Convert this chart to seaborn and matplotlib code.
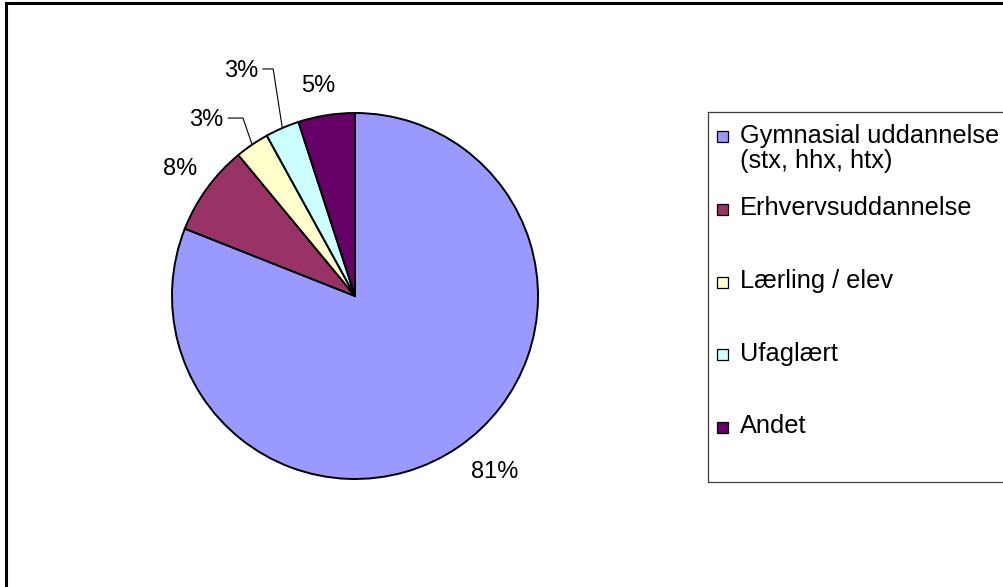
import numpy as np
import matplotlib
matplotlib.use("Agg")
import matplotlib.pyplot as plt
from matplotlib.patches import Rectangle
import seaborn as sns

# data
categories = ["Gymnasial uddannelse\n(stx, hhx, htx)", "Erhvervsuddannelse",
              "Lærling / elev", "Ufaglært", "Andet"]
shares = [81, 8, 3, 3, 5]
colors = ["#9999FF", "#993366", "#FFFFCC", "#CCFFFF", "#660066"]

# label layout (distance in radii, angle shift in degrees, leader line?)
lab_dist = [1.23, 1.18, 1.26, 1.38, 1.165]
lab_shift = [4.2, 0.0, 6.0, 3.5, 0.9]
lab_leader = [False, False, True, True, False]

sns.set_style("white")
plt.rcParams['font.family'] = ['Liberation Sans', 'DejaVu Sans']
plt.rcParams['text.color'] = 'black'

W, H = 1004, 587
fig = plt.figure(figsize=(W / 100, H / 100), dpi=100)

# outer frame (cut by the image edge on right/bottom)
fig.patches.append(Rectangle((6 / W, -0.05), 1.1, 1 - 3 / H + 0.05, transform=fig.transFigure,
                             fill=False, edgecolor="black", linewidth=2.2))

# pie axes: centre at (355, 296) px, radius 183 px
R = 183
cx, cy = 355, 296
half = 250
ax = fig.add_axes([(cx - half) / W, (H - cy - half) / H, 2 * half / W, 2 * half / H])
wedges, _ = ax.pie(shares, colors=colors, startangle=90, counterclock=False,
                   wedgeprops=dict(edgecolor="black", linewidth=1.4))
lim = half / R
ax.set_xlim(-lim, lim)
ax.set_ylim(-lim, lim)
ax.set_axis_off()

for w, val, d, s, lead in zip(wedges, shares, lab_dist, lab_shift, lab_leader):
    mid = (w.theta1 + w.theta2) / 2
    a = np.deg2rad(mid + s)
    lx, ly = d * np.cos(a), d * np.sin(a)
    ax.text(lx, ly, f"{val}%", ha="center", va="center", fontsize=17, color="black")
    if lead:
        ex, ey = np.cos(np.deg2rad(mid)), np.sin(np.deg2rad(mid))
        x0 = lx + 0.12
        x1 = ex - 0.05
        ax.plot([x0, x1, ex], [ly + 0.01, ly + 0.01, ey], color="black", lw=0.8,
                solid_joinstyle="miter")

# legend box
lg_top, lg_bot, lg_left = 112, 482, 708
lax = fig.add_axes([lg_left / W, (H - lg_bot) / H, (W + 20 - lg_left) / W, (lg_bot - lg_top) / H])
lax.set_xlim(0, W + 20 - lg_left)
lax.set_ylim(lg_bot - lg_top, 0)
lax.set_xticks([])
lax.set_yticks([])
for sp in lax.spines.values():
    sp.set_edgecolor("#404040")
    sp.set_linewidth(0.9)

first = 25
step = 72.5
for i, (cat, col) in enumerate(zip(categories, colors)):
    yc = first + i * step
    lax.add_patch(Rectangle((9, yc - 5.5), 11, 11, facecolor=col, edgecolor="black", linewidth=0.9))
    lax.text(32, yc - 13, cat, ha="left", va="top", fontsize=18.3, linespacing=1.05, color="black")

fig.savefig("out.png", dpi=100)
